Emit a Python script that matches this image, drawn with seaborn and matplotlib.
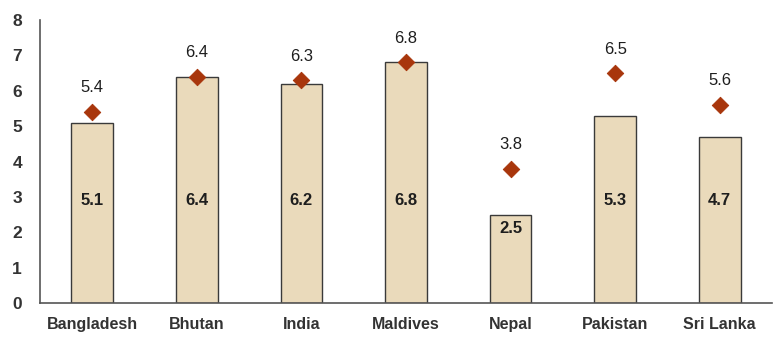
import pandas as pd
import seaborn as sns
import matplotlib.pyplot as plt

countries = ["Bangladesh", "Bhutan", "India", "Maldives", "Nepal", "Pakistan", "Sri Lanka"]
bar_values = [5.1, 6.4, 6.2, 6.8, 2.5, 5.3, 4.7]
point_values = [5.4, 6.4, 6.3, 6.8, 3.8, 6.5, 5.6]

df = pd.DataFrame({"country": countries, "bar": bar_values, "point": point_values})

sns.set_style("white")
plt.rcParams["font.family"] = ["Liberation Sans", "DejaVu Sans"]

fig = plt.figure(figsize=(7.73, 3.38), dpi=100)
ax = fig.add_axes([40 / 773, 35 / 338, 732 / 773, 283 / 338])

sns.barplot(data=df, x="country", y="bar", color="#eadabb", saturation=1,
            width=0.4, edgecolor="#3a3a3a", linewidth=1.0, ax=ax, zorder=2)
sns.scatterplot(data=df, x="country", y="point", marker="D", s=70,
                color="#a8360c", edgecolor="#a8360c", ax=ax, zorder=3)

for i, (b, p) in enumerate(zip(bar_values, point_values)):
    ax.text(i, min(2.9, b - 0.4), f"{b:.1f}", ha="center", va="center",
            fontsize=12, fontweight="bold", color="#1e1e1e", zorder=4)
    ax.text(i, p + 0.68, f"{p:.1f}", ha="center", va="center",
            fontsize=12, color="#1e1e1e", zorder=4)

ax.set_ylim(0, 8)
ax.set_xlim(-0.5, 6.5)
ax.set_yticks(range(0, 9))
ax.set_xlabel("")
ax.set_ylabel("")
ax.tick_params(axis="y", length=0, labelsize=12.5, colors="#333333", pad=13)
ax.tick_params(axis="x", length=0, labelsize=11.5, colors="#333333", pad=10)
for lab in ax.get_xticklabels() + ax.get_yticklabels():
    lab.set_fontweight("bold")
for s in ["top", "right"]:
    ax.spines[s].set_visible(False)
for s in ["left", "bottom"]:
    ax.spines[s].set_color("#555555")
    ax.spines[s].set_linewidth(1.2)

plt.savefig("out.png", dpi=100)
